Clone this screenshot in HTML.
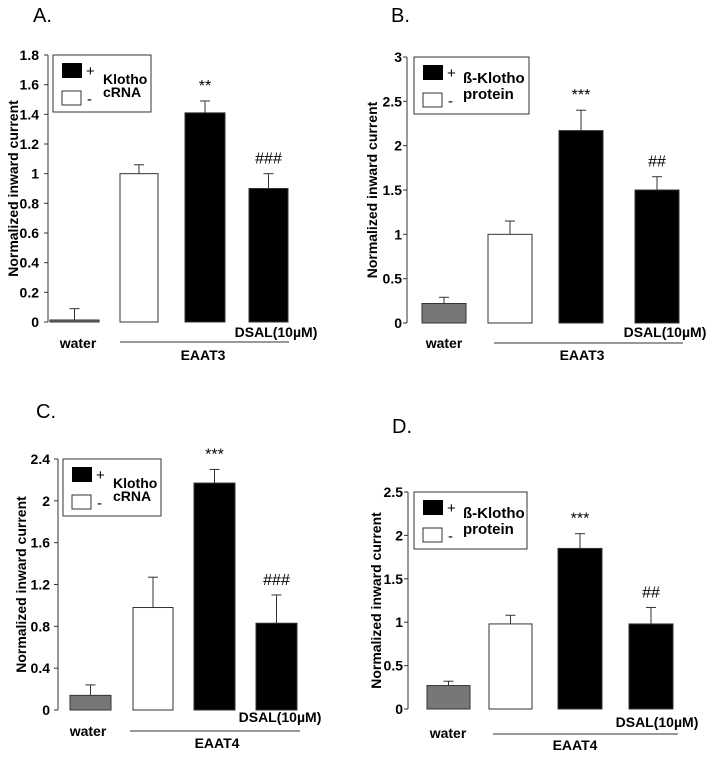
<!DOCTYPE html>
<html><head><meta charset="utf-8">
<style>
body{margin:0;background:#fff;width:710px;height:755px;overflow:hidden}
svg{font-family:"Liberation Sans",Arial,sans-serif}
.b{font-weight:bold}
</style></head><body>
<svg id="fig" width="710" height="755" xmlns="http://www.w3.org/2000/svg"></svg>
<script>
const categories = ["water","-","+","DSAL"];
const valuesA = [0.01,1.0,1.41,0.90];
const errorsA = [0.09,1.06,1.49,1.0];
const ticksA = [0,0.2,0.4,0.6,0.8,1,1.2,1.4,1.6,1.8];
const valuesB = [0.22,1.0,2.17,1.5];
const errorsB = [0.29,1.15,2.4,1.65];
const ticksB = [0,0.5,1,1.5,2,2.5,3];
const valuesC = [0.14,0.98,2.17,0.83];
const errorsC = [0.24,1.27,2.3,1.1];
const ticksC = [0,0.4,0.8,1.2,1.6,2,2.4];
const valuesD = [0.27,0.98,1.85,0.98];
const errorsD = [0.32,1.08,2.02,1.17];
const ticksD = [0,0.5,1,1.5,2,2.5];
const sigA = ["","","**","###"], sigB=["","","***","##"], sigC=["","","***","###"], sigD=["","","***","##"];

const NS="http://www.w3.org/2000/svg";
const svg=document.getElementById("fig");
function mk(tag,attrs,parent,text){const e=document.createElementNS(NS,tag);for(const k in attrs)e.setAttribute(k,attrs[k]);if(text!==undefined)e.textContent=text;(parent||svg).appendChild(e);return e;}

const panels=[
 {id:"a",letter:"A.",lx:33,ly:22,vals:valuesA,errs:errorsA,ticks:ticksA,sig:sigA,ax:48,y0:322,y1:55,max:1.8,tk:9,
  bars:[[50,99],[120,158],[185,225],[249,288]],leg:[53,55,98,57],l1:"Klotho",l2:"cRNA",line:[120,289,342],water:[78,348],eaat:[203,360,"EAAT3"],dsal:[276,337],labX:18},
 {id:"b",letter:"B.",lx:391,ly:22,vals:valuesB,errs:errorsB,ticks:ticksB,sig:sigB,ax:407,y0:323,y1:57,max:3,tk:5,
  bars:[[422,466],[488,532],[559,603],[635,679]],leg:[414,57,115,57],l1:"ß-Klotho",l2:"protein",line:[494,683,343],water:[444,348],eaat:[582,360,"EAAT3"],dsal:[665,337],labX:377},
 {id:"c",letter:"C.",lx:36,ly:418,vals:valuesC,errs:errorsC,ticks:ticksC,sig:sigC,ax:58,y0:710,y1:459,max:2.4,tk:8,
  bars:[[70,111],[133,173],[194,235],[256,297]],leg:[63,459,98,57],l1:"Klotho",l2:"cRNA",line:[130,300,731],water:[88,736],eaat:[217,748,"EAAT4"],dsal:[280,722],labX:26},
 {id:"d",letter:"D.",lx:392,ly:433,vals:valuesD,errs:errorsD,ticks:ticksD,sig:sigD,ax:408,y0:709,y1:492,max:2.5,tk:5,
  bars:[[427,470],[489,532],[558,602],[629,673]],leg:[414,492,113,57],l1:"ß-Klotho",l2:"protein",line:[493,678,734],water:[448,738],eaat:[575,750,"EAAT4"],dsal:[657,727],labX:381}
];

panels.forEach(p=>{
 const g=mk("g",{});
 
 
 const y=v=>p.y0-(v/p.max)*(p.y0-p.y1);
 const t=mk("text",{x:p.lx,y:p.ly,"font-size":20},g,p.letter);
 
 
 const ax=mk("line",{x1:p.ax,y1:p.y1,x2:p.ax,y2:p.y0,stroke:"#333","stroke-width":1},g);
 
 
 p.ticks.forEach(v=>{
  mk("line",{x1:p.ax-4,y1:y(v),x2:p.ax,y2:y(v),stroke:"#333"},g);
  const tl=mk("text",{x:p.ax-p.tk,y:y(v)+5,"font-size":14,"text-anchor":"end",class:"b"},g,String(v));
  
  
 });
 const cy=(p.y0+p.y1)/2;
 const yl=mk("text",{x:p.labX,y:cy,"font-size":14,"text-anchor":"middle",class:"b",transform:`rotate(-90 ${p.labX} ${cy})`},g,"Normalized inward current");
 
 
 p.vals.forEach((v,i)=>{
  const [x0,x1]=p.bars[i]; const cx=(x0+x1)/2;
  const fill=i==0?"#777":(i==1?"#fff":"#000");
  const top=y(v), h=Math.max(p.y0-top,2);
  mk("line",{x1:cx,y1:y(p.errs[i]),x2:cx,y2:top,stroke:"#333"},g);
  mk("line",{x1:cx-5,y1:y(p.errs[i]),x2:cx+5,y2:y(p.errs[i]),stroke:"#333"},g);
  const r=mk("rect",{x:x0,y:p.y0-h,width:x1-x0,height:h,fill:fill,stroke:"#333","stroke-width":1},g);
  
  
  if(p.sig[i]){
   const s=mk("text",{x:cx,y:y(p.errs[i])-10,"font-size":16,"text-anchor":"middle"},g,p.sig[i]);
   
   
  }
 });
 const [lx,ly,lw,lh]=p.leg;
 const lg=mk("g",{},g);
 
 
 mk("rect",{x:lx,y:ly,width:lw,height:lh,fill:"#fff",stroke:"#333"},lg);
 mk("rect",{x:lx+9,y:ly+8,width:20,height:15,fill:"#000"},lg);
 mk("text",{x:lx+33,y:ly+21,"font-size":15},lg,"+");
 mk("rect",{x:lx+9,y:ly+36,width:19,height:14,fill:"#fff",stroke:"#333"},lg);
 mk("text",{x:lx+34,y:ly+49,"font-size":15},lg,"-");
 const kl=p.l1=="Klotho";
 mk("text",{x:lx+(kl?50:49),y:ly+(kl?29:26),"font-size":kl?14:15,class:"b"},lg,p.l1);
 mk("text",{x:lx+(kl?50:49),y:ly+(kl?42:42),"font-size":kl?14:15,class:"b"},lg,p.l2);
 mk("line",{x1:p.line[0],y1:p.line[2],x2:p.line[1],y2:p.line[2],stroke:"#333"},g);
 const w=mk("text",{x:p.water[0],y:p.water[1],"font-size":14,"text-anchor":"middle",class:"b"},g,"water");
 
 
 const e=mk("text",{x:p.eaat[0],y:p.eaat[1],"font-size":14,"text-anchor":"middle",class:"b"},g,p.eaat[2]);
 
 
 const d=mk("text",{x:p.dsal[0],y:p.dsal[1],"font-size":14,"text-anchor":"middle",class:"b"},g,"DSAL(10µM)");
 
 
});
</script>
</body></html>
